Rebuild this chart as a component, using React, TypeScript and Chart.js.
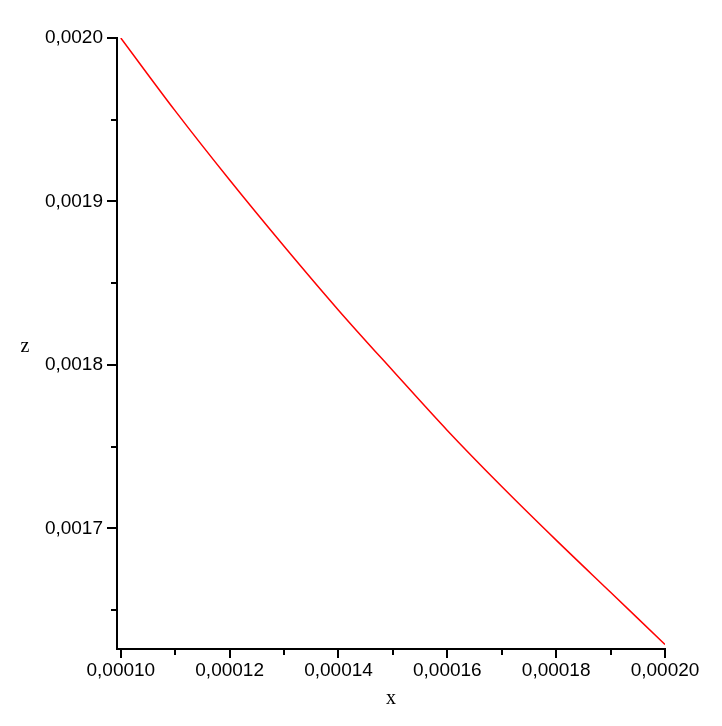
import React, { useEffect, useRef } from 'react';
import { Chart, registerables } from 'chart.js';

Chart.register(...registerables);

const xValues = [0.0001, 0.00011, 0.00012, 0.00013, 0.00014, 0.00015, 0.00016, 0.00017, 0.00018, 0.00019, 0.0002];
const zValues = [0.0020000, 0.0019554, 0.0019131, 0.0018726, 0.0018335, 0.0017964, 0.0017599, 0.0017256, 0.0016928, 0.0016609, 0.0016290];

const xMajorTicks = [0.0001, 0.00012, 0.00014, 0.00016, 0.00018, 0.0002];
const xMinorTicks = [0.00011, 0.00013, 0.00015, 0.00017, 0.00019];
const zMajorTicks = [0.0017, 0.0018, 0.0019, 0.002];
const zMinorTicks = [0.00165, 0.00175, 0.00185, 0.00195];

const xRange = [0.0000993, 0.0002];
const zRange = [0.0016262, 0.002];

const tickFont = { family: '"Liberation Sans", Arial, sans-serif', size: 19 };
const titleFont = '20px "Liberation Serif", "Times New Roman", serif';

const tickMarks = {
    id: 'tickMarks',
    afterDraw(chart) {
        const { ctx } = chart;
        const xs = chart.scales.x;
        const ys = chart.scales.y;
        ctx.save();
        ctx.strokeStyle = '#000';
        ctx.lineWidth = 2;
        const tick = (x1, y1, x2, y2) => {
            ctx.beginPath();
            ctx.moveTo(x1, y1);
            ctx.lineTo(x2, y2);
            ctx.stroke();
        };
        xMajorTicks.forEach(v => {
            const px = Math.round(xs.getPixelForValue(v));
            tick(px, xs.top, px, xs.top + 9);
        });
        xMinorTicks.forEach(v => {
            const px = Math.round(xs.getPixelForValue(v));
            tick(px, xs.top, px, xs.top + 6);
        });
        zMajorTicks.forEach(v => {
            const py = Math.round(ys.getPixelForValue(v));
            tick(ys.right, py, ys.right - 10, py);
        });
        zMinorTicks.forEach(v => {
            const py = Math.round(ys.getPixelForValue(v));
            tick(ys.right, py, ys.right - 6, py);
        });

        // axis names
        ctx.fillStyle = '#000';
        ctx.font = titleFont;
        ctx.textAlign = 'center';
        ctx.textBaseline = 'alphabetic';
        ctx.fillText('z', 25, (ys.top + ys.bottom) / 2 + 8);
        ctx.fillText('x', (xs.left + xs.right) / 2, xs.top + 55);
        ctx.restore();
    }
};

export default function App() {
    const canvas = useRef(null);

    useEffect(() => {
        document.body.style.margin = '0';
        const chart = new Chart(canvas.current, {
            type: 'line',
            data: {
                datasets: [{
                    label: 'z',
                    data: xValues.map((x, i) => ({ x, y: zValues[i] })),
                    borderColor: '#ff0000',
                    borderWidth: 1.5,
                    pointRadius: 0,
                    cubicInterpolationMode: 'monotone',
                    fill: false
                }]
            },
            options: {
                animation: false,
                responsive: true,
                maintainAspectRatio: false,
                layout: {
                    padding: { left: 0, top: 38, right: 57, bottom: 0 }
                },
                plugins: {
                    legend: { display: false },
                    tooltip: { enabled: false }
                },
                scales: {
                    x: {
                        type: 'linear',
                        min: xRange[0],
                        max: xRange[1],
                        afterBuildTicks: scale => {
                            scale.ticks = xMajorTicks.map(value => ({ value }));
                        },
                        afterFit: scale => {
                            scale.height = 77;
                        },
                        grid: { display: false, drawTicks: true, tickLength: 9 },
                        border: { display: true, color: '#000', width: 2 },
                        ticks: {
                            color: '#000',
                            font: tickFont,
                            padding: 1,
                            maxRotation: 0,
                            autoSkip: false,
                            callback: v => Number(v).toFixed(5).replace('.', ',')
                        }
                    },
                    y: {
                        type: 'linear',
                        min: zRange[0],
                        max: zRange[1],
                        afterBuildTicks: scale => {
                            scale.ticks = zMajorTicks.map(value => ({ value }));
                        },
                        afterFit: scale => {
                            scale.width = 117;
                        },
                        grid: { display: false, drawTicks: true, tickLength: 10 },
                        border: { display: true, color: '#000', width: 2 },
                        ticks: {
                            color: '#000',
                            font: tickFont,
                            padding: 4,
                            autoSkip: false,
                            callback: v => Number(v).toFixed(4).replace('.', ',')
                        }
                    }
                }
            },
            plugins: [tickMarks]
        });
        return () => {
            chart.destroy();
        };
    }, []);

    return (
        <div style={{ position: 'relative', width: '722px', height: '726px' }}>
            <canvas ref={canvas}></canvas>
        </div>
    );
}
